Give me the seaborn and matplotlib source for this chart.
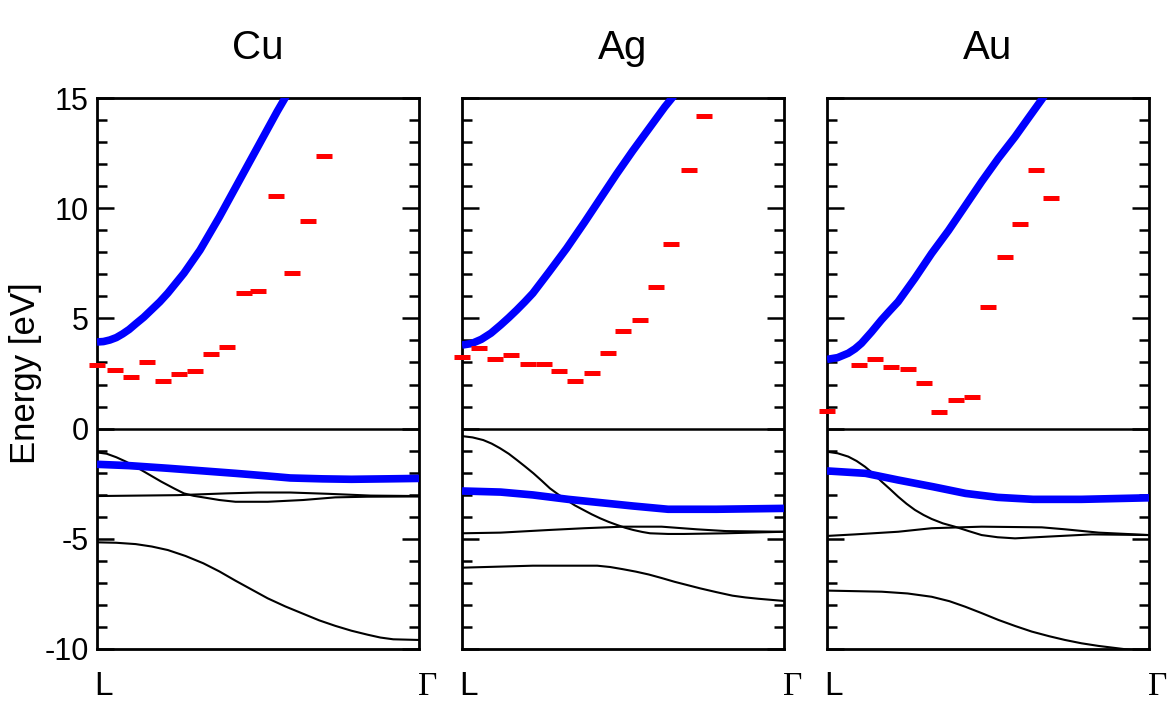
import numpy as np
import pandas as pd
import matplotlib
matplotlib.use("Agg")
import matplotlib.pyplot as plt
import matplotlib.transforms as mtransforms
from matplotlib.ticker import MultipleLocator
import seaborn as sns

# ---------------- data ----------------
panel_names = ["Cu", "Ag", "Au"]
k_labels = ["L", "\u0393"]

# Cu
cu_qp_k = [0, 0.02, 0.04, 0.06, 0.08, 0.1, 0.12, 0.145, 0.17, 0.195, 0.22, 0.27, 0.32, 0.38, 0.44, 0.5, 0.56, 0.6]
cu_qp_E = [3.93, 3.95, 4.02, 4.13, 4.3, 4.5, 4.75, 5.05, 5.4, 5.75, 6.15, 7.05, 8.1, 9.6, 11.2, 12.8, 14.4, 15.4]
cu_d_k = [0, 0.1, 0.22, 0.33, 0.43, 0.53, 0.6, 0.7, 0.79, 0.9, 1.0]
cu_d_E = [-1.62, -1.68, -1.80, -1.92, -2.03, -2.15, -2.24, -2.28, -2.30, -2.28, -2.26]
cu_b1_k = [0, 0.03, 0.06, 0.09, 0.12, 0.16, 0.2, 0.24, 0.27, 0.3, 0.33, 0.38, 0.43, 0.53, 0.64, 0.74, 0.84, 1.0]
cu_b1_E = [-1.08, -1.14, -1.3, -1.5, -1.73, -2.07, -2.41, -2.72, -2.94, -3.05, -3.12, -3.24, -3.32, -3.32, -3.24, -3.12, -3.09, -3.08]
cu_b2_k = [0, 0.25, 0.4, 0.5, 0.6, 0.72, 0.85, 1.0]
cu_b2_E = [-3.06, -3.02, -2.94, -2.9, -2.9, -2.96, -3.04, -3.06]
cu_b3_k = [0, 0.06, 0.12, 0.17, 0.22, 0.275, 0.33, 0.38, 0.43, 0.48, 0.53, 0.585, 0.64, 0.69, 0.74, 0.79, 0.84, 0.88, 0.92, 1.0]
cu_b3_E = [-5.16, -5.18, -5.24, -5.35, -5.51, -5.78, -6.11, -6.48, -6.9, -7.3, -7.7, -8.07, -8.4, -8.7, -8.95, -9.17, -9.35, -9.48, -9.56, -9.59]
cu_dash_k = [0.0, 0.055, 0.105, 0.155, 0.205, 0.255, 0.305, 0.355, 0.405, 0.455, 0.5, 0.555, 0.605, 0.655, 0.705]
cu_dash_E = [2.89, 2.66, 2.36, 3.01, 2.16, 2.49, 2.61, 3.40, 3.72, 6.17, 6.23, 10.57, 7.07, 9.41, 12.38]

# Ag
ag_qp_k = [0, 0.03, 0.06, 0.09, 0.12, 0.145, 0.17, 0.195, 0.22, 0.27, 0.325, 0.38, 0.43, 0.48, 0.53, 0.58, 0.63, 0.68]
ag_qp_E = [3.79, 3.86, 4.05, 4.33, 4.70, 5.03, 5.38, 5.75, 6.14, 7.10, 8.18, 9.35, 10.45, 11.55, 12.6, 13.6, 14.6, 15.5]
ag_d_k = [0, 0.12, 0.22, 0.33, 0.43, 0.53, 0.64, 0.79, 1.0]
ag_d_E = [-2.83, -2.88, -3.01, -3.21, -3.36, -3.51, -3.66, -3.66, -3.62]
ag_b1_k = [0, 0.033, 0.066, 0.092, 0.118, 0.145, 0.17, 0.196, 0.222, 0.248, 0.273, 0.3, 0.325, 0.35, 0.377, 0.403, 0.429, 0.455, 0.481, 0.507, 0.532, 0.56, 0.584, 0.64, 0.69, 0.82, 1.0]
ag_b1_E = [-0.34, -0.40, -0.52, -0.68, -0.89, -1.14, -1.42, -1.72, -2.03, -2.37, -2.71, -3.0, -3.24, -3.48, -3.69, -3.89, -4.07, -4.23, -4.37, -4.5, -4.60, -4.69, -4.75, -4.78, -4.78, -4.75, -4.68]
ag_b2_k = [0, 0.12, 0.27, 0.38, 0.5, 0.62, 0.73, 0.82, 1.0]
ag_b2_E = [-4.75, -4.72, -4.60, -4.52, -4.45, -4.45, -4.57, -4.65, -4.68]
ag_b3_k = [0, 0.22, 0.42, 0.46, 0.5, 0.54, 0.58, 0.62, 0.66, 0.7, 0.74, 0.79, 0.84, 0.88, 0.92, 1.0]
ag_b3_E = [-6.31, -6.22, -6.22, -6.28, -6.38, -6.49, -6.62, -6.78, -6.95, -7.1, -7.25, -7.42, -7.58, -7.66, -7.72, -7.82]
ag_dash_k = [0.0, 0.054, 0.102, 0.152, 0.206, 0.255, 0.302, 0.351, 0.405, 0.452, 0.501, 0.553, 0.603, 0.650, 0.705, 0.753]
ag_dash_E = [3.26, 3.64, 3.14, 3.32, 2.93, 2.93, 2.61, 2.16, 2.54, 3.44, 4.43, 4.93, 6.42, 8.38, 11.73, 14.18]

# Au
au_qp_k = [0, 0.033, 0.066, 0.087, 0.107, 0.138, 0.169, 0.195, 0.221, 0.273, 0.325, 0.377, 0.429, 0.481, 0.532, 0.584, 0.625, 0.68]
au_qp_E = [3.14, 3.22, 3.42, 3.62, 3.87, 4.38, 4.93, 5.35, 5.76, 6.82, 7.95, 8.98, 10.1, 11.22, 12.26, 13.24, 14.08, 15.2]
au_d_k = [0, 0.12, 0.22, 0.33, 0.43, 0.53, 0.64, 0.79, 1.0]
au_d_E = [-1.92, -2.03, -2.33, -2.64, -2.94, -3.12, -3.21, -3.21, -3.14]
au_b1_k = [0, 0.033, 0.066, 0.092, 0.118, 0.145, 0.17, 0.196, 0.221, 0.247, 0.273, 0.3, 0.325, 0.36, 0.397, 0.44, 0.48, 0.53, 0.584, 0.687, 0.822, 1.0]
au_b1_E = [-1.05, -1.12, -1.27, -1.47, -1.73, -2.06, -2.41, -2.75, -3.09, -3.41, -3.69, -3.92, -4.10, -4.3, -4.45, -4.65, -4.83, -4.93, -4.98, -4.90, -4.80, -4.83]
au_b2_k = [0, 0.087, 0.221, 0.325, 0.48, 0.667, 0.74, 0.844, 1.0]
au_b2_E = [-4.87, -4.80, -4.68, -4.52, -4.45, -4.48, -4.57, -4.72, -4.83]
au_b3_k = [0, 0.17, 0.25, 0.325, 0.38, 0.429, 0.48, 0.532, 0.585, 0.636, 0.69, 0.739, 0.79, 0.843, 0.926, 1.0]
au_b3_E = [-7.35, -7.40, -7.48, -7.63, -7.83, -8.08, -8.37, -8.68, -8.96, -9.21, -9.42, -9.59, -9.74, -9.86, -10.01, -10.1]
au_dash_k = [0.0, 0.1, 0.15, 0.198, 0.252, 0.3, 0.348, 0.402, 0.449, 0.5, 0.552, 0.6, 0.65, 0.697]
au_dash_E = [0.80, 2.87, 3.14, 2.81, 2.69, 2.08, 0.74, 1.30, 1.45, 5.52, 7.80, 9.27, 11.73, 10.45]

panels = [
    dict(qp=(cu_qp_k, cu_qp_E), d=(cu_d_k, cu_d_E),
         bands=[(cu_b1_k, cu_b1_E), (cu_b2_k, cu_b2_E), (cu_b3_k, cu_b3_E)],
         dash=(cu_dash_k, cu_dash_E)),
    dict(qp=(ag_qp_k, ag_qp_E), d=(ag_d_k, ag_d_E),
         bands=[(ag_b1_k, ag_b1_E), (ag_b2_k, ag_b2_E), (ag_b3_k, ag_b3_E)],
         dash=(ag_dash_k, ag_dash_E)),
    dict(qp=(au_qp_k, au_qp_E), d=(au_d_k, au_d_E),
         bands=[(au_b1_k, au_b1_E), (au_b2_k, au_b2_E), (au_b3_k, au_b3_E)],
         dash=(au_dash_k, au_dash_E)),
]

# ---------------- style ----------------
sns.set_style("ticks")
plt.rcParams['font.family'] = ['Liberation Sans', 'DejaVu Sans']
plt.rcParams['axes.unicode_minus'] = False
plt.rcParams['text.color'] = 'black'
plt.rcParams['axes.labelcolor'] = 'black'
plt.rcParams['xtick.color'] = 'black'
plt.rcParams['ytick.color'] = 'black'
plt.rcParams['xtick.labelcolor'] = 'black'
plt.rcParams['ytick.labelcolor'] = 'black'

W, H = 1168, 704
fig = plt.figure(figsize=(W / 100, H / 100), dpi=100)
fig.patch.set_facecolor("white")

lefts_px = [97, 462, 827]
width_px = 322
top_px, bottom_px = 98, 649

for i, (name, p) in enumerate(zip(panel_names, panels)):
    ax = fig.add_axes([lefts_px[i] / W, (H - bottom_px) / H,
                       width_px / W, (bottom_px - top_px) / H])
    ax.set_facecolor("white")

    ax.axhline(0, color="black", lw=1.8, zorder=2)

    for bk, bE in p["bands"]:
        sns.lineplot(x=bk, y=bE, ax=ax, color="black", linewidth=1.5,
                     estimator=None, sort=False, zorder=3)
    for key in ("d", "qp"):
        bk, bE = p[key]
        sns.lineplot(x=bk, y=bE, ax=ax, color="#0000ff", linewidth=5.5,
                     estimator=None, sort=False, zorder=4,
                     solid_capstyle="butt")
    dk, dE = p["dash"]
    sns.lineplot(x=dk, y=dE, ax=ax, linestyle="none", marker="_",
                 markersize=11, markeredgewidth=3.6, color="#ff0000",
                 markeredgecolor="#ff0000", estimator=None, sort=False,
                 zorder=5, clip_on=False)

    ax.set_xlim(0, 1)
    ax.set_ylim(-10, 15)
    ax.yaxis.set_major_locator(MultipleLocator(5))
    ax.yaxis.set_minor_locator(MultipleLocator(1))
    ax.tick_params(axis="y", which="major", direction="in", length=12,
                   width=1.8, left=True, right=True, labelsize=22, pad=6,
                   color="black", labelcolor="black")
    ax.tick_params(axis="y", which="minor", direction="in", length=7.5,
                   width=1.8, left=True, right=True, color="black")
    if i > 0:
        ax.tick_params(axis="y", which="both", labelleft=False)

    ax.set_xticks([0, 1])
    ax.set_xticklabels(k_labels)
    ax.tick_params(axis="x", length=0, labelsize=24, pad=16, labelcolor="black")
    xl = ax.get_xticklabels()
    xl[0].set_ha("left")
    xl[0].set_transform(xl[0].get_transform() +
                        mtransforms.ScaledTranslation(-0.03, 0, fig.dpi_scale_trans))
    xl[1].set_fontfamily(["Liberation Serif", "DejaVu Serif"])
    xl[1].set_ha("center")
    xl[1].set_transform(xl[1].get_transform() +
                        mtransforms.ScaledTranslation(0.09, 0, fig.dpi_scale_trans))

    for s in ax.spines.values():
        s.set_linewidth(2.0)
        s.set_color("black")
        s.set_visible(True)

    ax.set_xlabel("")
    ax.set_ylabel("")
    ax.set_title(name, fontsize=29, pad=28, color="black")
    if i == 0:
        ax.set_ylabel("Energy [eV]", fontsize=25, labelpad=2, color="black")

fig.savefig("out.png", dpi=100, facecolor="white")
